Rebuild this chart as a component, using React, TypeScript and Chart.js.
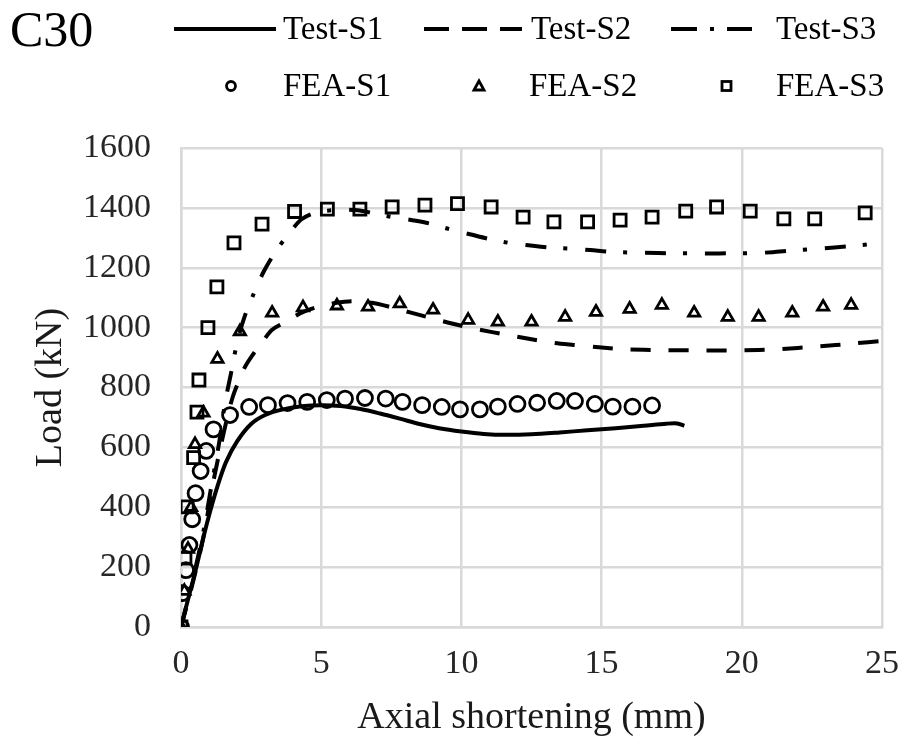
import React, { useEffect, useRef } from 'react';
import { Chart, registerables } from 'chart.js';

Chart.register(...registerables);

const FONT = '"Liberation Serif", "Times New Roman", serif';

// ---- data ----
const panelLabel = 'C30';
const xTitle = 'Axial shortening (mm)';
const yTitle = 'Load (kN)';
const xTickValues = [0, 5, 10, 15, 20, 25];
const yTickValues = [0, 200, 400, 600, 800, 1000, 1200, 1400, 1600];
const testLabels = ['Test-S1', 'Test-S2', 'Test-S3'];
const feaLabels = ['FEA-S1', 'FEA-S2', 'FEA-S3'];

const testS1: [number, number][] = [
  [0, 0], [0.3, 110], [0.55, 200], [0.8, 300], [1.05, 390], [1.3, 470], [1.6, 550],
  [2.0, 620], [2.5, 678], [3.0, 708], [3.6, 726], [4.3, 737], [5.0, 741], [5.7, 738],
  [6.4, 728], [7.1, 713], [7.8, 696], [8.5, 678], [9.2, 664], [10.0, 653], [10.8, 645],
  [11.6, 642], [12.5, 644], [13.5, 650], [14.5, 657], [15.5, 664], [16.5, 672],
  [17.3, 679], [17.7, 680], [17.95, 672],
];

const testS2: [number, number][] = [
  [0, 0], [0.4, 140], [0.8, 300], [1.1, 460], [1.35, 575], [1.6, 680], [1.85, 770],
  [2.1, 830], [2.3, 872], [2.6, 915], [2.9, 952], [3.25, 993], [3.8, 1022], [4.3, 1050],
  [4.9, 1070], [5.5, 1082], [6.1, 1088], [6.8, 1083], [7.5, 1068], [8.2, 1050],
  [9.0, 1030], [9.7, 1013], [10.4, 998], [11.1, 985], [11.8, 973], [12.5, 961],
  [13.2, 950], [14.0, 942], [14.8, 935], [15.8, 928], [17.2, 925], [18.6, 924],
  [19.9, 924], [21.3, 928], [22.7, 937], [24.0, 947], [25.0, 956],
];

const testS3: [number, number][] = [
  [0, 0], [0.4, 150], [0.8, 320], [1.1, 480], [1.35, 610], [1.57, 748], [1.8, 855],
  [2.0, 950], [2.25, 1032], [2.6, 1115], [2.96, 1189], [3.4, 1258], [3.89, 1319],
  [4.3, 1362], [4.8, 1384], [5.5, 1393], [6.3, 1392], [6.9, 1381], [7.5, 1370],
  [8.3, 1358], [8.9, 1347], [9.6, 1328], [10.3, 1312], [11.0, 1296], [11.7, 1283],
  [12.4, 1275], [13.2, 1267], [13.9, 1264], [14.6, 1259], [15.3, 1253], [16.0, 1251],
  [17.0, 1249], [18.2, 1248], [19.2, 1248], [20.4, 1249], [21.1, 1252], [21.8, 1258],
  [22.5, 1262], [23.3, 1268], [23.9, 1272], [24.6, 1279], [25.0, 1283],
];

const feaS1: [number, number][] = [
  [0, 0], [0.05, 113], [0.18, 190], [0.3, 274], [0.4, 360], [0.52, 447], [0.7, 521],
  [0.9, 588], [1.16, 660], [1.75, 708], [2.43, 735], [3.1, 741], [3.8, 748], [4.5, 752],
  [5.2, 758], [5.85, 763], [6.56, 765], [7.3, 763], [7.9, 752], [8.6, 741], [9.3, 735],
  [9.95, 727], [10.66, 727], [11.3, 736], [12.0, 745], [12.7, 749], [13.4, 755],
  [14.05, 755], [14.76, 745], [15.4, 736], [16.1, 736], [16.8, 740],
];

const feaS2: [number, number][] = [
  [0, 0], [0.12, 120], [0.25, 260], [0.36, 400], [0.5, 610], [0.8, 715], [1.3, 895],
  [2.1, 987], [3.25, 1049], [4.35, 1067], [5.56, 1073], [6.67, 1069], [7.8, 1080],
  [8.99, 1059], [10.24, 1025], [11.3, 1019], [12.5, 1019], [13.7, 1035], [14.8, 1052],
  [16.0, 1062], [17.15, 1075], [18.3, 1049], [19.5, 1035], [20.6, 1035], [21.8, 1049],
  [22.9, 1069], [23.9, 1075],
];

const feaS3: [number, number][] = [
  [0, 0], [0.14, 230], [0.22, 401], [0.45, 566], [0.57, 718], [0.64, 825], [0.96, 1000],
  [1.28, 1136], [1.89, 1283], [2.89, 1346], [4.05, 1388], [5.22, 1396], [6.38, 1396],
  [7.53, 1403], [8.7, 1409], [9.86, 1414], [11.06, 1403], [12.2, 1369], [13.3, 1353],
  [14.5, 1353], [15.66, 1359], [16.8, 1369], [18.0, 1389], [19.1, 1403], [20.3, 1389],
  [21.5, 1363], [22.6, 1363], [24.4, 1383],
];

const toPts = (arr: [number, number][]) => arr.map(([x, y]) => ({ x, y }));

const DASH_S2 = [20, 18];
const DASH_S3 = [21, 17, 4, 18];

const legendPlugin = {
  id: 'refLegend',
  afterDraw(chart: any) {
    const ctx: CanvasRenderingContext2D = chart.ctx;
    ctx.save();
    ctx.fillStyle = '#000';
    ctx.strokeStyle = '#000';
    ctx.textAlign = 'left';
    ctx.textBaseline = 'middle';
    ctx.font = `50px ${FONT}`;
    ctx.fillText(panelLabel, 10, 33);

    ctx.font = `33px ${FONT}`;
    const r1 = 29;
    const r2 = 86;
    ctx.lineWidth = 4;
    const samples: [number, number, number[]][] = [
      [174, 276, []],
      [424, 522, [25, 13]],
      [671, 752, [26, 13, 4, 13]],
    ];
    samples.forEach(([a, b, dash]) => {
      ctx.setLineDash(dash);
      ctx.beginPath();
      ctx.moveTo(a, r1);
      ctx.lineTo(b, r1);
      ctx.stroke();
    });
    ctx.setLineDash([]);
    const t1x = [283, 531, 776];
    testLabels.forEach((t, i) => ctx.fillText(t, t1x[i], r1 + 1));

    ctx.lineWidth = 2.8;
    ctx.beginPath();
    ctx.arc(231, r2, 4.5, 0, Math.PI * 2);
    ctx.stroke();
    ctx.beginPath();
    ctx.moveTo(479, r2 - 5);
    ctx.lineTo(484, r2 + 4);
    ctx.lineTo(474, r2 + 4);
    ctx.closePath();
    ctx.stroke();
    ctx.strokeRect(722, r2 - 4.5, 9, 9);
    const t2x = [283, 529, 776];
    feaLabels.forEach((t, i) => ctx.fillText(t, t2x[i], r2 + 1));
    ctx.restore();
  },
};

export default function App() {
  const ref = useRef<HTMLCanvasElement | null>(null);

  useEffect(() => {
    document.body.style.margin = '0';
    const canvas = ref.current;
    if (!canvas) return;

    const lineDs = (label: string, data: [number, number][], dash: number[]) => ({
      label,
      data: toPts(data),
      showLine: true,
      borderColor: '#000',
      backgroundColor: '#000',
      borderWidth: 4,
      borderDash: dash,
      pointRadius: 0,
      tension: 0.3,
      fill: false,
    });
    const markDs = (label: string, data: [number, number][], style: string, radius: number) => ({
      label,
      data: toPts(data),
      showLine: false,
      pointStyle: style,
      pointRadius: radius,
      pointBorderWidth: 2.8,
      pointBorderColor: '#000',
      pointBackgroundColor: 'rgba(0,0,0,0)',
      borderColor: '#000',
      backgroundColor: 'rgba(0,0,0,0)',
    });

    const chart = new Chart(canvas, {
      type: 'scatter',
      data: {
        datasets: [
          markDs(feaLabels[0], feaS1, 'circle', 7.5),
          markDs(feaLabels[1], feaS2, 'triangle', 6.5),
          markDs(feaLabels[2], feaS3, 'rect', 8.5),
          lineDs(testLabels[0], testS1, []),
          lineDs(testLabels[1], testS2, DASH_S2),
          lineDs(testLabels[2], testS3, DASH_S3),
        ] as any,
      },
      options: {
        animation: false,
        responsive: false,
        maintainAspectRatio: false,
        layout: { padding: { top: 148, right: 18, left: 0, bottom: 0 } },
        plugins: {
          legend: { display: false },
          tooltip: { enabled: false },
          title: { display: false },
        },
        scales: {
          x: {
            type: 'linear',
            min: xTickValues[0],
            max: xTickValues[xTickValues.length - 1],
            afterBuildTicks: (s: any) => {
              s.ticks = xTickValues.map((v) => ({ value: v }));
            },
            afterFit: (s: any) => {
              s.height = 112;
              s.paddingRight = 18;
              s.paddingLeft = 18;
            },
            grid: { color: '#d9d9d9', lineWidth: 2.5, drawTicks: false },
            border: { display: true, color: '#d9d9d9', width: 2.5 },
            ticks: {
              padding: 17,
              color: '#262626',
              font: { family: FONT, size: 34 },
              callback: (v: any) => String(v),
            },
            title: {
              display: true,
              text: xTitle,
              color: '#1a1a1a',
              padding: 0,
              font: { family: FONT, size: 38, lineHeight: 1.1 },
            },
          },
          y: {
            type: 'linear',
            min: yTickValues[0],
            max: yTickValues[yTickValues.length - 1],
            afterBuildTicks: (s: any) => {
              s.ticks = yTickValues.map((v) => ({ value: v }));
            },
            afterFit: (s: any) => {
              s.width = 181;
            },
            grid: { color: '#d9d9d9', lineWidth: 2.5, drawTicks: false },
            border: { display: true, color: '#d9d9d9', width: 2.5 },
            ticks: {
              padding: 30,
              color: '#262626',
              font: { family: FONT, size: 34 },
              callback: (v: any) => String(v),
            },
            title: {
              display: true,
              text: yTitle,
              color: '#1a1a1a',
              padding: { top: 30, bottom: 0 },
              font: { family: FONT, size: 38, lineHeight: 1.1 },
            },
          },
        },
      } as any,
      plugins: [legendPlugin],
    });

    return () => {
      chart.destroy();
    };
  }, []);

  return (
    <div style={{ width: 900, height: 739, background: '#fff' }}>
      <canvas ref={ref} width={900} height={739} style={{ display: 'block' }} />
    </div>
  );
}
